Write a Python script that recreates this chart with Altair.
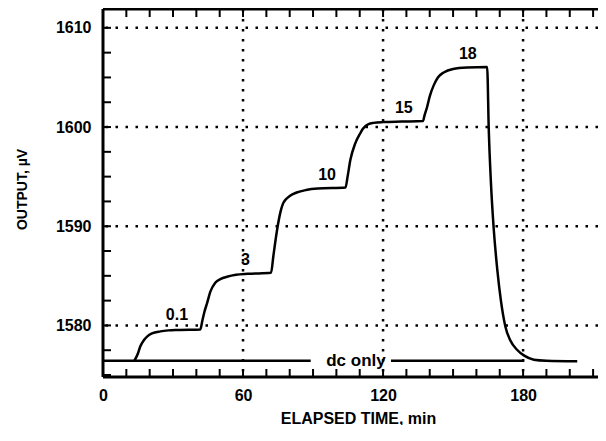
import altair as alt
import pandas as pd

# ---- data ----
time_min = [13.5, 15, 16, 17.5, 19, 21, 24.6, 28, 32, 41.7,
            42.5, 43.5, 44.6, 46, 48.1, 50.5, 53.1, 57, 62, 72,
            73, 74.5, 76, 77, 78.5, 80, 83, 87, 92, 103.9,
            104.8, 106, 108, 110.3, 111.3, 112.5, 113.8, 115.9, 120, 128, 137.1,
            137.8, 138.9, 140, 141.7, 143.5, 146, 150, 156, 164.6,
            165.3, 166.2, 167.4, 169, 170.5, 172.4, 174.5, 177.4, 180.5, 184.6, 190, 203.2]
output_uv = [1576.45, 1577.2, 1577.9, 1578.5, 1578.9, 1579.2, 1579.4, 1579.5, 1579.55, 1579.6,
             1580.4, 1581.4, 1582.25, 1583.4, 1584.3, 1584.7, 1584.9, 1585.1, 1585.2, 1585.3,
             1587.0, 1589.5, 1591.4, 1592.2, 1592.75, 1593.05, 1593.4, 1593.65, 1593.8, 1593.9,
             1595.0, 1596.7, 1598.3, 1599.4, 1599.8, 1600.1, 1600.3, 1600.42, 1600.5, 1600.55, 1600.6,
             1601.2, 1602.05, 1603.1, 1604.2, 1605.0, 1605.5, 1605.85, 1606.0, 1606.05,
             1599.7, 1594.5, 1589.8, 1585.5, 1582.5, 1579.9, 1578.5, 1577.55, 1576.95, 1576.55, 1576.45, 1576.4]

step_labels = ["0.1", "3", "10", "15", "18"]
label_time = [31.7, 61, 96, 128.9, 156.3]
label_output = [1581.1, 1586.6, 1595.2, 1601.9, 1607.4]

dc_start = [0, 123.4]
dc_end = [89, 180.5]
dc_level = [1576.45, 1576.45]
dc_text = ["dc only"]
dc_text_time = [108.4]
dc_text_level = [1576.45]

x_major = [0, 60, 120, 180]
x_grid = [60, 120, 180]
y_major = [1580, 1590, 1600, 1610]
x_minor = [0, 10, 20, 30, 40, 50, 60, 70, 80, 90, 100, 110, 120, 130, 140,
           150, 160, 170, 180, 190, 200, 210]
y_minor = [1575, 1577.5, 1580, 1582.5, 1585, 1587.5, 1590, 1592.5, 1595,
           1597.5, 1600, 1602.5, 1605, 1607.5, 1610]

# ---- styling ----
W, H = 495, 368
FONT = "Liberation Sans"
INK = "#000000"

xscale = alt.Scale(domain=[0, 212.1], nice=False, zero=False)
yscale = alt.Scale(domain=[1574.8, 1611.9], nice=False, zero=False)

xaxis = alt.Axis(values=x_major, title="ELAPSED TIME, min", ticks=False, domain=False,
                 grid=False, labelFont=FONT, labelFontSize=16, labelFontWeight="bold",
                 labelColor=INK, labelPadding=10, labelFlush=False, format="d",
                 titleFont=FONT, titleFontSize=16, titleFontWeight="bold", titleColor=INK,
                 titleX=255, titleY=41, titleBaseline="middle", titleAlign="center")
yaxis = alt.Axis(values=y_major, title="OUTPUT, µV", ticks=False, domain=False,
                 grid=False, labelFont=FONT, labelFontSize=16, labelFontWeight="bold",
                 labelColor=INK, labelPadding=12, labelFlush=False, format="d",
                 titleFont=FONT, titleFontSize=14, titleFontWeight="bold", titleColor=INK,
                 titleX=-81, titleY=180, titleAngle=-90, titleBaseline="middle",
                 titleAlign="center")


def X(f):
    return alt.X(f, type="quantitative", scale=xscale, axis=xaxis)


def Y(f):
    return alt.Y(f, type="quantitative", scale=yscale, axis=yaxis)


curve_df = pd.DataFrame({"t": time_min, "v": output_uv})
lab_df = pd.DataFrame({"t": label_time, "v": label_output, "s": step_labels})
dc_df = pd.DataFrame({"t": dc_start, "t2": dc_end, "v": dc_level})
dct_df = pd.DataFrame({"t": dc_text_time, "v": dc_text_level, "s": dc_text})

hgrid = alt.Chart(pd.DataFrame({"v": y_major})).mark_rule(
    color=INK, strokeWidth=2.5, strokeDash=[2.5, 7.5]).encode(y=Y("v"))
vgrid = alt.Chart(pd.DataFrame({"t": x_grid})).mark_rule(
    color=INK, strokeWidth=2.5, strokeDash=[2.5, 7.5]).encode(x=X("t"))

frame_left = alt.Chart(pd.DataFrame({"a": [0]})).mark_rule(
    color=INK, strokeWidth=3).encode(x=alt.value(0))
frame_bottom = alt.Chart(pd.DataFrame({"a": [0]})).mark_rule(
    color=INK, strokeWidth=3).encode(y=alt.value(H))
frame_top = alt.Chart(pd.DataFrame({"a": [0]})).mark_rule(
    color=INK, strokeWidth=3).encode(y=alt.value(0))

bottom_ticks = alt.Chart(pd.DataFrame({"t": x_minor})).mark_rule(
    color=INK, strokeWidth=2).encode(x=X("t"), y=alt.value(H), y2=alt.value(H - 8))
top_ticks = alt.Chart(pd.DataFrame({"t": x_minor})).mark_rule(
    color=INK, strokeWidth=2).encode(x=X("t"), y=alt.value(0), y2=alt.value(8))
left_ticks = alt.Chart(pd.DataFrame({"v": y_minor})).mark_rule(
    color=INK, strokeWidth=2).encode(y=Y("v"), x=alt.value(0), x2=alt.value(8))

dc_line = alt.Chart(dc_df).mark_rule(color=INK, strokeWidth=2.5).encode(
    x=X("t"), x2="t2", y=Y("v"))
dc_label = alt.Chart(dct_df).mark_text(
    font=FONT, fontSize=17, fontWeight="bold", color=INK, align="center",
    baseline="middle").encode(x=X("t"), y=Y("v"), text="s")

curve = alt.Chart(curve_df).mark_line(
    color=INK, strokeWidth=2.5, interpolate="monotone").encode(x=X("t"), y=Y("v"))
labels = alt.Chart(lab_df).mark_text(
    font=FONT, fontSize=16, fontWeight="bold", color=INK, align="center",
    baseline="middle").encode(x=X("t"), y=Y("v"), text="s")

chart = alt.layer(
    hgrid, vgrid, frame_left, frame_bottom, frame_top,
    bottom_ticks, top_ticks, left_ticks, dc_line, dc_label, curve, labels
).properties(
    width=W, height=H,
    autosize=alt.AutoSizeParams(type="none"),
    padding={"left": 95, "top": 1, "right": 0, "bottom": 48},
    background="white",
).configure_view(stroke=None)

chart.save("out.html", embed_options={"renderer": "svg", "actions": False})
